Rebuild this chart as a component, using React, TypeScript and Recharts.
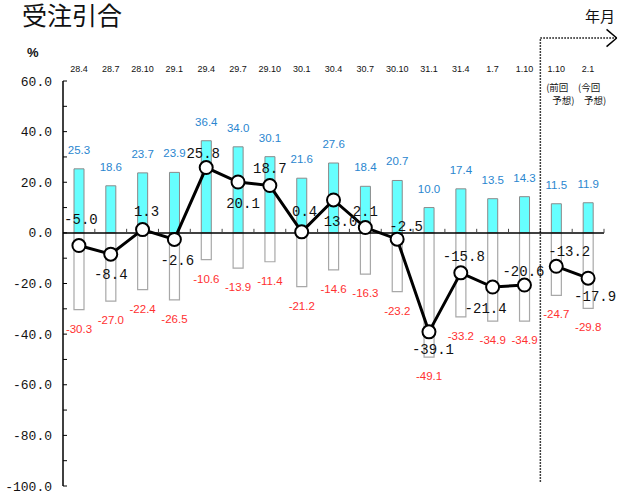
import React from "react";
import { Bar, ComposedChart, LabelList, Line, ReferenceLine, XAxis, YAxis } from "recharts";

// 調査時期 (最後の2つは予想)
const categories = ["28.4", "28.7", "28.10", "29.1", "29.4", "29.7", "29.10", "30.1", "30.4", "30.7", "30.10", "31.1", "31.4", "1.7", "1.10", "1.10", "2.1"];
const increaseShare = [25.3, 18.6, 23.7, 23.9, 36.4, 34.0, 30.1, 21.6, 27.6, 18.4, 20.7, 10.0, 17.4, 13.5, 14.3, 11.5, 11.9];
const decreaseShare = [-30.3, -27.0, -22.4, -26.5, -10.6, -13.9, -11.4, -21.2, -14.6, -16.3, -23.2, -49.1, -33.2, -34.9, -34.9, -24.7, -29.8];
const netActual = [-5.0, -8.4, 1.3, -2.6, 25.8, 20.1, 18.7, 0.4, 13.0, 2.1, -2.5, -39.1, -15.8, -21.4, -20.6];
const netForecast = [-13.2, -17.9];
const forecastNotes = [["(前回", "予想)"], ["(今回", "予想)"]];
const yTicks = [-100, -90, -80, -70, -60, -50, -40, -30, -20, -10, 0, 10, 20, 30, 40, 50, 60];

// ラベルの位置調整 (点からのずれ)
const netLabelNudge = [
  [2, -27], [0, 20], [4, -19], [3, 21], [-3, -15], [5, 21], [0, -18], [3, -21], [7, 21],
  [0, -17], [9, -13], [4, 17], [3, -17], [-7, 21], [-1, -14], [13, -15], [7, 18],
];

const data = categories.map((label, i) => ({
  label,
  pos: i + 0.5,
  up: increaseShare[i],
  down: decreaseShare[i],
  actual: i < netActual.length ? netActual[i] : null,
  forecast: i >= netActual.length ? netForecast[i - netActual.length] : null,
}));

const MONO = "'Liberation Mono', 'DejaVu Sans Mono', monospace";
const SANS = "'Liberation Sans', Arial, sans-serif";
const CJK = "'Noto Sans CJK JP', sans-serif";

function YTick(props: any) {
  const { x, y, payload } = props;
  const v = payload.value as number;
  return (
    <g>
      <line x1={x} x2={x + 4} y1={y} y2={y} stroke="#000" strokeWidth={1} />
      {v % 20 === 0 && (
        <text x={x - 11} y={y + 4.5} textAnchor="end" fontFamily={MONO} fontSize={13} fill="#111">
          {v.toFixed(1)}
        </text>
      )}
    </g>
  );
}

function TopTick(props: any) {
  const { x, y, payload, index } = props;
  const first = categories.length - forecastNotes.length;
  const note = index >= first ? forecastNotes[index - first] : null;
  return (
    <g>
      <text x={x} y={y - 9} textAnchor="middle" fontFamily={SANS} fontSize={9} fill="#111">
        {payload.value}
      </text>
      {note && (
        <g fontFamily={CJK} fontSize={9.5} fill="#111">
          <text x={x + 1} y={y + 10} textAnchor="middle">{note[0]}</text>
          <text x={x + 7} y={y + 23} textAnchor="middle">{note[1]}</text>
        </g>
      )}
    </g>
  );
}

function UpLabel(props: any) {
  const { x, y, width, value } = props;
  return (
    <text x={x + width / 2} y={y - 15} textAnchor="middle" fontFamily={SANS} fontSize={11.5} fill="#2a86cf">
      {Number(value).toFixed(1)}
    </text>
  );
}

function DownLabel(props: any) {
  const { x, y, width, height, value } = props;
  const bottom = Math.max(y, y + height);
  return (
    <text x={x + width / 2} y={bottom + 23} textAnchor="middle" fontFamily={SANS} fontSize={11.5} fill="#ff3030">
      {Number(value).toFixed(1)}
    </text>
  );
}

function NetLabel(props: any) {
  const { x, y, value, index } = props;
  if (value == null || x == null || y == null) return null;
  const [dx, dy] = netLabelNudge[index] || [0, -16];
  return (
    <text x={x + dx} y={y + dy + 5} textAnchor="middle" fontFamily={MONO} fontSize={14} fill="#111">
      {Number(value).toFixed(1)}
    </text>
  );
}

const boundaries = Array.from({ length: categories.length }, (_, i) => i + 1);
const split = netActual.length;

export default function App() {
  return (
    <div style={{ position: "absolute", left: 0, top: 0, width: 619, height: 493, background: "#fff" }}>
      <ComposedChart
        width={619}
        height={493}
        data={data}
        stackOffset="sign"
        margin={{ top: 0, right: 15, bottom: 7, left: 0 }}
      >
        <XAxis
          xAxisId="cat"
          dataKey="label"
          orientation="top"
          height={81}
          axisLine={false}
          tickLine={false}
          tickSize={0}
          tickMargin={0}
          interval={0}
          tick={<TopTick />}
        />
        <XAxis xAxisId="num" dataKey="pos" type="number" domain={[0, categories.length]} allowDataOverflow hide />
        <YAxis
          domain={[-100, 60]}
          ticks={yTicks}
          interval={0}
          width={63}
          axisLine={{ stroke: "#000", strokeWidth: 1.5 }}
          tickLine={false}
          tickSize={0}
          tickMargin={0}
          tick={<YTick />}
        />
        <ReferenceLine xAxisId="num" y={0} stroke="#000" strokeWidth={1.5} />
        {boundaries.map((b) => (
          <ReferenceLine
            key={b}
            xAxisId="num"
            segment={[{ x: b, y: 0 }, { x: b, y: 1.6 }]}
            stroke="#444"
            strokeWidth={1}
            ifOverflow="visible"
          />
        ))}
        <ReferenceLine
          xAxisId="num"
          segment={[{ x: split, y: -98.3 }, { x: split, y: 77 }]}
          stroke="#000"
          strokeWidth={1.5}
          strokeDasharray="1.5 1.5"
          ifOverflow="visible"
        />
        <ReferenceLine
          xAxisId="num"
          segment={[{ x: split, y: 77 }, { x: 17.39, y: 77 }]}
          stroke="#000"
          strokeWidth={1.5}
          strokeDasharray="1.5 1.5"
          ifOverflow="visible"
        />
        <ReferenceLine xAxisId="num" segment={[{ x: 17.08, y: 80.4 }, { x: 17.4, y: 77 }]} stroke="#000" strokeWidth={1.5} ifOverflow="visible" />
        <ReferenceLine xAxisId="num" segment={[{ x: 17.4, y: 77 }, { x: 17.08, y: 73.6 }]} stroke="#000" strokeWidth={1.5} ifOverflow="visible" />
        <Bar xAxisId="cat" dataKey="up" stackId="s" barSize={10} fill="#66ffff" stroke="#8a8a8a" strokeWidth={1} isAnimationActive={false}>
          <LabelList dataKey="up" content={<UpLabel />} />
        </Bar>
        <Bar xAxisId="cat" dataKey="down" stackId="s" barSize={10} fill="#ffffff" stroke="#a8a8a8" strokeWidth={1.2} isAnimationActive={false}>
          <LabelList dataKey="down" content={<DownLabel />} />
        </Bar>
        <Line
          xAxisId="cat"
          dataKey="actual"
          stroke="#000"
          strokeWidth={3}
          dot={{ r: 6.5, fill: "#fff", stroke: "#000", strokeWidth: 2 }}
          isAnimationActive={false}
        >
          <LabelList dataKey="actual" content={<NetLabel />} />
        </Line>
        <Line
          xAxisId="cat"
          dataKey="forecast"
          stroke="#000"
          strokeWidth={3}
          dot={{ r: 6.5, fill: "#fff", stroke: "#000", strokeWidth: 2 }}
          isAnimationActive={false}
        >
          <LabelList dataKey="forecast" content={<NetLabel />} />
        </Line>
      </ComposedChart>
      <svg width={619} height={493} style={{ position: "absolute", left: 0, top: 0, pointerEvents: "none" }}>
        <text x={22} y={25} fontFamily={CJK} fontSize={25} fill="#111">受注引合</text>
        <text x={27} y={57} fontFamily={SANS} fontSize={13} fontWeight="bold" fill="#111">%</text>
        <text x={585} y={22} fontFamily={CJK} fontSize={15} fill="#111">年月</text>
      </svg>
    </div>
  );
}
